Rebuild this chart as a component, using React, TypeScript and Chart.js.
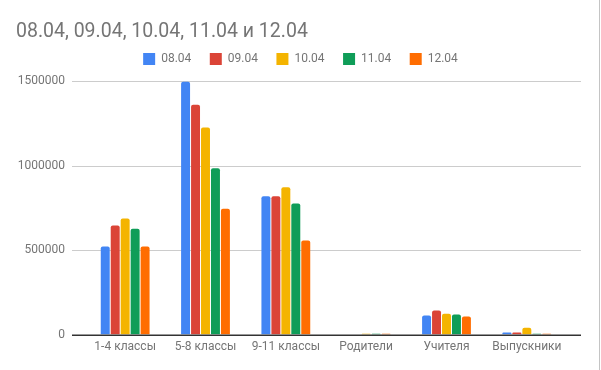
import React, { useEffect, useRef } from "react";
import { Chart, registerables } from "chart.js";

Chart.register(...registerables);

const titleText = "08.04, 09.04, 10.04, 11.04 и 12.04";
const categories = ["1-4 классы", "5-8 классы", "9-11 классы", "Родители", "Учителя", "Выпускники"];
const seriesLabels = ["08.04", "09.04", "10.04", "11.04", "12.04"];
const s0804 = [521000, 1495000, 818000, 0, 113000, 12000];
const s0904 = [646000, 1360000, 818000, 0, 142000, 12000];
const s1004 = [686000, 1225000, 871000, 5000, 124000, 41000];
const s1104 = [626000, 984000, 775000, 5000, 119000, 5000];
const s1204 = [521000, 745000, 557000, 5000, 107000, 5000];
const yTicks = [0, 500000, 1000000, 1500000];
const colors = ["#4285F4", "#DB4437", "#F4B400", "#0F9D58", "#FF6D01"];

const FONT = "Roboto";
const GREY = "#757575";

const gridPlugin = {
  id: "gsGrid",
  afterLayout(chart: any) {
    // centre the legend over the whole canvas, as the original does
    const lg = chart.legend;
    if (lg) {
      lg.left = 0;
      lg.right = chart.width;
      lg.width = chart.width;
    }
  },
  beforeDatasetsDraw(chart: any) {
    const { ctx, chartArea, scales } = chart;
    const y = scales.y;
    const x0 = chartArea.left - 13;
    const x1 = chartArea.right + 14;
    ctx.save();
    ctx.strokeStyle = "#cccccc";
    ctx.lineWidth = 1;
    for (const v of yTicks) {
      if (v === 0) continue;
      const py = Math.round(y.getPixelForValue(v)) + 0.5;
      ctx.beginPath();
      ctx.moveTo(x0, py);
      ctx.lineTo(x1, py);
      ctx.stroke();
    }
    ctx.restore();
  },
  afterDatasetsDraw(chart: any) {
    const { ctx, chartArea, scales, width, height } = chart;
    const y = scales.y;
    const x0 = chartArea.left - 13;
    const x1 = chartArea.right + 14;
    const py = Math.round(y.getPixelForValue(0));
    ctx.save();
    ctx.strokeStyle = "#333333";
    ctx.lineWidth = 1.5;
    ctx.beginPath();
    ctx.moveTo(x0, py + 0.25);
    ctx.lineTo(x1, py + 0.25);
    ctx.stroke();
    ctx.strokeStyle = "#c4c4c4";
    ctx.lineWidth = 1;
    ctx.beginPath();
    ctx.moveTo(width - 1.5, 0);
    ctx.lineTo(width - 1.5, height);
    ctx.stroke();
    ctx.restore();
  },
};

export default function App() {
  const ref = useRef<HTMLCanvasElement | null>(null);
  useEffect(() => {
    if (!ref.current) return;
    const series = [s0804, s0904, s1004, s1104, s1204];
    const chart = new Chart(ref.current, {
      type: "bar",
      data: {
        labels: categories,
        datasets: series.map((d, i) => ({
          label: seriesLabels[i],
          data: d,
          backgroundColor: colors[i],
          borderWidth: 0,
          borderRadius: { topLeft: 2, topRight: 2, bottomLeft: 0, bottomRight: 0 },
          borderSkipped: false,
          categoryPercentage: 0.62,
          barPercentage: 0.9,
        })),
      },
      options: {
        animation: false,
        responsive: false,
        maintainAspectRatio: false,
        devicePixelRatio: 1,
        layout: { padding: { left: 16, right: 34, top: 0, bottom: 11 } },
        plugins: {
          title: {
            display: true,
            text: titleText,
            align: "start",
            color: GREY,
            font: { family: FONT, size: 19.5, weight: "normal", lineHeight: 1 },
            padding: { top: 22, bottom: -7 },
          },
          subtitle: {
            display: true,
            text: "",
            weight: 500,
            font: { family: FONT, size: 1, lineHeight: 1 },
            padding: { top: 5, bottom: 0 },
          },
          legend: {
            display: true,
            position: "top",
            labels: {
              boxWidth: 12,
              boxHeight: 12,
              padding: 18.5,
              color: GREY,
              font: { family: FONT, size: 12 },
            },
          },
          tooltip: { enabled: false },
        },
        scales: {
          x: {
            grid: { display: false, drawTicks: false },
            border: { display: false },
            ticks: {
              color: GREY,
              font: { family: FONT, size: 12 },
              padding: 5,
              maxRotation: 0,
              autoSkip: false,
            },
          },
          y: {
            min: 0,
            max: 1500000,
            grid: { display: false, drawTicks: false },
            border: { display: false },
            afterFit: (scale: any) => {
              scale.width = 69;
            },
            afterBuildTicks: (scale: any) => {
              scale.ticks = yTicks.map((v) => ({ value: v }));
            },
            ticks: {
              color: GREY,
              font: { family: FONT, size: 12 },
              padding: 20,
              callback: (v: any) => String(v),
            },
          },
        },
      },
      plugins: [gridPlugin],
    });
    return () => chart.destroy();
  }, []);
  return (
    <div style={{ position: "absolute", left: 0, top: 0, width: 601, height: 370, background: "#fff" }}>
      <canvas ref={ref} width={601} height={370} style={{ width: 601, height: 370, display: "block" }} />
    </div>
  );
}
